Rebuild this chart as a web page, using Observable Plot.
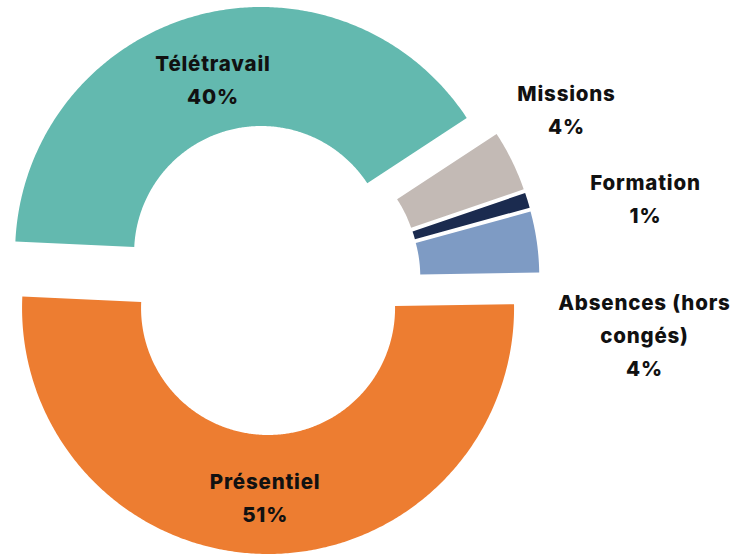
<!DOCTYPE html>
<html><head><meta charset="utf-8">
<script src="https://cdn.jsdelivr.net/npm/d3@7"></script>
<script src="https://cdn.jsdelivr.net/npm/@observablehq/plot@0.6"></script>
<style>
html,body{margin:0;padding:0;background:#fff;}
#chart svg text{letter-spacing:0.8px}
</style></head><body><div id="chart"></div>
<script>
// ---- data ----
const categories = ["Présentiel", "Télétravail", "Missions", "Formation", "Absences (hors congés)"];
const labelLines = ["Présentiel", "Télétravail", "Missions", "Formation", "Absences (hors\ncongés)"];
const values = [51, 40, 4, 1, 4];
const colors = ["#ED7D31", "#63B9AF", "#C3BAB5", "#1B2B4F", "#7E9BC4"];

// ---- layout ----
const W = 736, H = 556;
const cx = 268, cy = 279.5;          // pie centre in pixels
const R = 246, r = 127;              // outer / inner radius
const startAngle = 89.1;             // degrees, clockwise from north
const explode = [28, 28, 25, 25, 25];
// label placement: inside slices at a radius from the slice centre,
// outside for small slices at [angle, distance] from the pie centre
const labelRadius = [186.5, 182.5, null, null, null];
const labelPolar = [null, null, [59.86, 344.6], [77.5, 386.1], [97.95, 379.6]];

const total = d3.sum(values);
const rad = a => a * Math.PI / 180;
const poly = [];
const labs = [];
let a0 = startAngle;
values.forEach((v, i) => {
  const a1 = a0 + v / total * 360;
  const mid = (a0 + a1) / 2;
  const ox = explode[i] * Math.sin(rad(mid));
  const oy = -explode[i] * Math.cos(rad(mid));
  const n = Math.max(4, Math.ceil((a1 - a0) / 0.5));
  for (let k = 0; k <= n; k++) {
    const a = a0 + (a1 - a0) * k / n;
    poly.push({cat: categories[i], x: ox + R * Math.sin(rad(a)), y: oy - R * Math.cos(rad(a))});
  }
  for (let k = n; k >= 0; k--) {
    const a = a0 + (a1 - a0) * k / n;
    poly.push({cat: categories[i], x: ox + r * Math.sin(rad(a)), y: oy - r * Math.cos(rad(a))});
  }
  let lx, ly;
  if (labelPolar[i]) {
    const [la, ld] = labelPolar[i];
    lx = ld * Math.sin(rad(la)); ly = -ld * Math.cos(rad(la));
  } else {
    const lr = labelRadius[i];
    lx = ox + lr * Math.sin(rad(mid)); ly = oy - lr * Math.cos(rad(mid));
  }
  labs.push({x: lx, y: ly, text: labelLines[i] + "\n" + values[i] + "%"});
  a0 = a1;
});

const plot = Plot.plot({
  width: W, height: H, margin: 0,
  x: {domain: [-cx, W - cx], range: [0, W], axis: null},
  y: {domain: [-cy, H - cy], range: [0, H], axis: null},
  color: {domain: categories, range: colors},
  style: {background: "white"},
  marks: [
    Plot.line(poly, {x: "x", y: "y", z: "cat", fill: "cat", stroke: "none", curve: "linear-closed"}),
    Plot.text(labs, {x: "x", y: "y", text: "text", fontSize: 20.5, fontWeight: 800, fontFamily: "Inter", lineHeight: 1.61, fill: "#111"})
  ]
});
document.getElementById("chart").appendChild(plot);
</script></body></html>
